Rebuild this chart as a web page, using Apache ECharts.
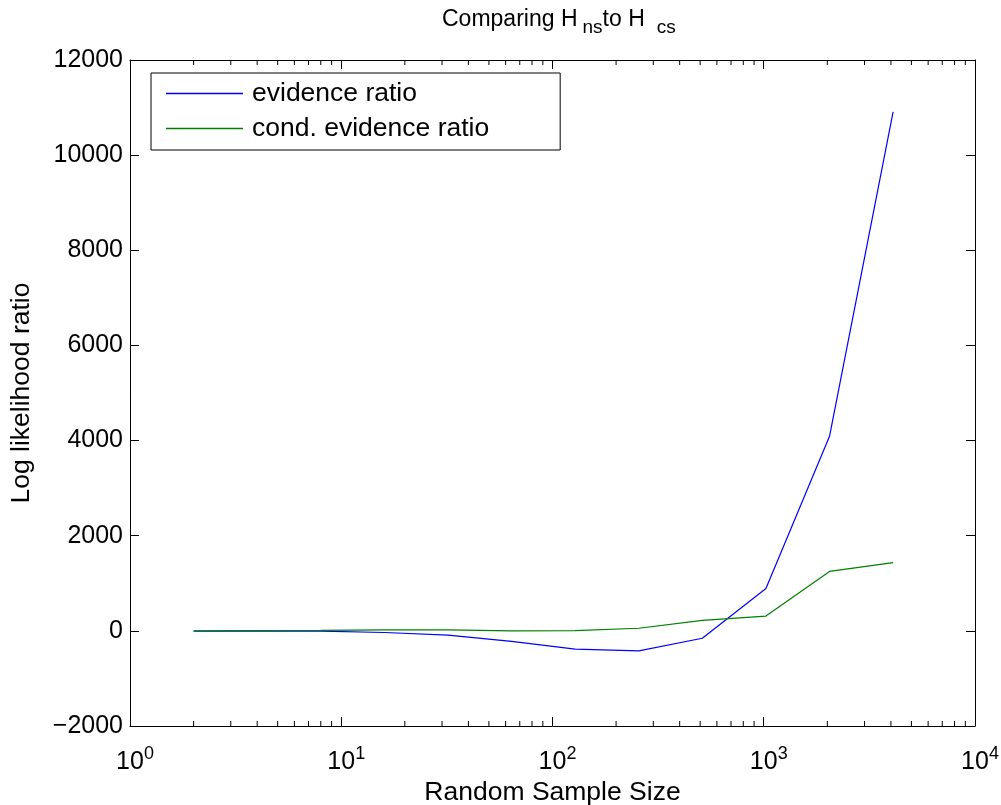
<!DOCTYPE html>
<html>
<head>
<meta charset="utf-8">
<script src="https://cdn.jsdelivr.net/npm/echarts@6/dist/echarts.min.js"></script>
<style>
  html, body { margin: 0; padding: 0; background: #fff; }
  #chart { width: 1001px; height: 805px; }
</style>
</head>
<body>
<div id="chart"></div>
<script>
// sample sizes (powers of two) and the two log likelihood ratios
const sampleSizes = [2, 4, 8, 16, 32, 64, 128, 256, 512, 1024, 2048, 4096]
const evidenceRatio = [-5, 0, -5, -35, -90, -220, -385, -420, -155, 890, 4090, 10910]
const condEvidenceRatio = [0, 5, 10, 20, 20, 0, 5, 55, 220, 310, 1250, 1435]

const seriesNames = ['evidence ratio', 'cond. evidence ratio']
const yMin = -2000
const yMax = 12000
const yStep = 2000
const xMin = 1
const xMax = 10000
// minor log ticks 2..9 in each decade
const minorTicks = [
  2, 3, 4, 5, 6, 7, 8, 9,
  20, 30, 40, 50, 60, 70, 80, 90,
  200, 300, 400, 500, 600, 700, 800, 900,
  2000, 3000, 4000, 5000, 6000, 7000, 8000, 9000
]

const font = 'Liberation Sans, Arial, Helvetica, sans-serif'
const chart = echarts.init(document.getElementById('chart'))

const axisLine = { show: true, onZero: false, lineStyle: { color: '#000', width: 1 } }

function xAxisOf (position, showLabel) {
  return {
    type: 'log',
    logBase: 10,
    min: xMin,
    max: xMax,
    interval: 1,
    position: position,
    axisLine: axisLine,
    axisTick: { show: true, inside: true, length: 9, lineStyle: { color: '#000' } },
    splitLine: { show: false },
    axisLabel: {
      show: showLabel,
      margin: 19,
      formatter: v => '{b|10}{e|' + Math.round(Math.log10(v)) + '}',
      rich: {
        b: { fontFamily: font, fontSize: 25, color: '#000', padding: [0, 0, 0, 10] },
        e: { fontFamily: font, fontSize: 18, color: '#000', padding: [0, 0, 16, 0] }
      }
    }
  }
}

function yAxisOf (position, showLabel) {
  return {
    type: 'value',
    min: yMin,
    max: yMax,
    interval: yStep,
    position: position,
    axisLine: axisLine,
    axisTick: { show: true, inside: true, length: 9, lineStyle: { color: '#000' } },
    splitLine: { show: false },
    axisLabel: {
      show: showLabel,
      margin: 7,
      fontFamily: font,
      fontSize: 25,
      color: '#000',
      formatter: v => String(v).replace('-', '\u2212')
    }
  }
}

const xBottom = xAxisOf('bottom', true)
xBottom.name = 'Random Sample Size'
xBottom.nameLocation = 'middle'
xBottom.nameGap = 50
xBottom.nameTextStyle = { fontFamily: font, fontSize: 26.5, color: '#000' }

const yLeft = yAxisOf('left', true)
yLeft.name = 'Log likelihood ratio'
yLeft.nameLocation = 'middle'
yLeft.nameGap = 95
yLeft.nameTextStyle = { fontFamily: font, fontSize: 26.5, color: '#000' }

// minor ticks drawn through the axis scale, at bottom and top edges
function minorTickItem (params, api) {
  const x = api.value(0)
  const bottom = api.coord([x, yMin])
  const top = api.coord([x, yMax])
  const style = { stroke: '#000', lineWidth: 1 }
  return {
    type: 'group',
    children: [
      { type: 'line', shape: { x1: bottom[0], y1: bottom[1], x2: bottom[0], y2: bottom[1] - 5 }, style: style },
      { type: 'line', shape: { x1: top[0], y1: top[1], x2: top[0], y2: top[1] + 5 }, style: style }
    ]
  }
}

const subStyle = { fontFamily: font, fontSize: 19, fontWeight: 'normal', color: '#000' }

const option = {
  animation: false,
  backgroundColor: '#fff',
  title: {
    text: '{a|Comparing H}{s1|ns}{a|to H}{s2|cs}',
    left: 442,
    top: 3,
    padding: 0,
    textStyle: {
      fontWeight: 'normal',
      rich: {
        a: { fontFamily: font, fontSize: 23, fontWeight: 'normal', color: '#000' },
        s1: Object.assign({ padding: [15, 0, 0, 5] }, subStyle),
        s2: Object.assign({ padding: [15, 0, 0, 12] }, subStyle)
      }
    }
  },
  legend: {
    data: seriesNames,
    orient: 'vertical',
    left: 151,
    top: 73,
    padding: [7, 71, 8, 15],
    icon: 'rect',
    itemWidth: 77,
    itemHeight: 1.5,
    itemGap: 8,
    borderColor: '#000',
    borderWidth: 1,
    borderRadius: 0,
    backgroundColor: '#fff',
    textStyle: { fontFamily: font, fontSize: 26.5, color: '#000', padding: [0, 0, 0, 4] }
  },
  grid: {
    left: 130,
    right: 26,
    top: 60,
    bottom: 79,
    containLabel: false,
    outerBoundsMode: 'none'
  },
  xAxis: [xBottom, xAxisOf('top', false)],
  yAxis: [yLeft, yAxisOf('right', false)],
  series: [
    {
      name: seriesNames[0],
      type: 'line',
      data: sampleSizes.map((x, i) => [x, evidenceRatio[i]]),
      symbol: 'none',
      color: '#0000ff',
      lineStyle: { width: 1.2, color: '#0000ff' }
    },
    {
      name: seriesNames[1],
      type: 'line',
      data: sampleSizes.map((x, i) => [x, condEvidenceRatio[i]]),
      symbol: 'none',
      color: '#008000',
      lineStyle: { width: 1.2, color: '#008000' }
    },
    {
      name: 'minor ticks',
      type: 'custom',
      data: minorTicks.map(x => [x, 0]),
      renderItem: minorTickItem,
      silent: true
    }
  ]
}

chart.setOption(option)
</script>
</body>
</html>
